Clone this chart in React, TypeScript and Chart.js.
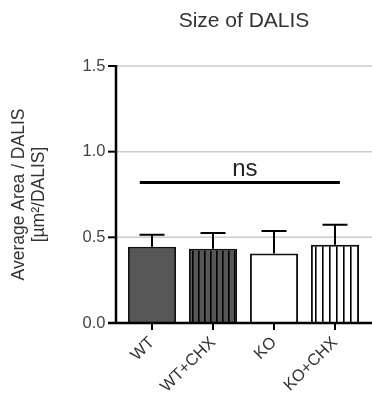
import React, { useEffect, useRef } from "react";
import { Chart, registerables } from "chart.js";

Chart.register(...registerables);

const categories = ["WT", "WT+CHX", "KO", "KO+CHX"];
const means = [0.445, 0.433, 0.406, 0.457];
const errors = [0.07, 0.092, 0.131, 0.117];
const yTicks = [0, 0.5, 1.0, 1.5];
const chartTitle = "Size of DALIS";
const yTitle = ["Average Area / DALIS", "[µm²/DALIS]"];
const sigLabel = "ns";
const sigFrom = -0.2;
const sigTo = 3.08;
const sigValue = 0.82;

function stripePattern(ctx: CanvasRenderingContext2D, bg: string, period: number) {
  const c = document.createElement("canvas");
  c.width = period;
  c.height = 8;
  const p = c.getContext("2d")!;
  p.fillStyle = bg;
  p.fillRect(0, 0, period, 8);
  p.fillStyle = "#000";
  p.fillRect(0, 0, 1.6, 8);
  return ctx.createPattern(c, "repeat")!;
}

export default function App() {
  const ref = useRef<HTMLCanvasElement | null>(null);
  useEffect(() => {
    const canvas = ref.current!;
    const ctx = canvas.getContext("2d")!;
    const fills: any[] = [
      "#575757",
      stripePattern(ctx, "#575757", 6),
      "#ffffff",
      stripePattern(ctx, "#ffffff", 7),
    ];
    const FONT = "'Liberation Sans', Arial, sans-serif";

    const decor = {
      id: "decor",
      beforeDatasetsDraw(chart: any) {
        const c = chart.ctx;
        const y = chart.scales.y;
        const axX = 116;
        c.save();
        c.strokeStyle = "#cccccc";
        c.lineWidth = 1.5;
        yTicks.forEach((v) => {
          if (v === 0) return;
          const py = y.getPixelForValue(v);
          c.beginPath();
          c.moveTo(axX, py);
          c.lineTo(chart.width, py);
          c.stroke();
        });
        c.restore();
      },
      afterDatasetsDraw(chart: any) {
        const c = chart.ctx;
        const x = chart.scales.x;
        const y = chart.scales.y;
        const axX = 116;
        const base = y.getPixelForValue(0);
        const top = y.getPixelForValue(1.5);
        c.save();
        const meta = chart.getDatasetMeta(0);
        c.strokeStyle = "#000";
        c.lineWidth = 2;
        meta.data.forEach((el: any, i: number) => {
          const ty = y.getPixelForValue(means[i] + errors[i]);
          c.beginPath();
          c.moveTo(el.x, el.y);
          c.lineTo(el.x, ty);
          c.moveTo(el.x - 12.5, ty);
          c.lineTo(el.x + 12.5, ty);
          c.stroke();
        });
        c.lineWidth = 2.5;
        c.beginPath();
        c.moveTo(axX, top - 1);
        c.lineTo(axX, base);
        c.stroke();
        c.beginPath();
        c.moveTo(axX - 8, base);
        c.lineTo(chart.width, base);
        c.stroke();
        c.lineWidth = 2;
        yTicks.forEach((v) => {
          const py = y.getPixelForValue(v);
          c.beginPath();
          c.moveTo(axX - 8, py);
          c.lineTo(axX, py);
          c.stroke();
        });
        categories.forEach((_, i) => {
          const px = x.getPixelForValue(i);
          c.beginPath();
          c.moveTo(px, base);
          c.lineTo(px, base + 7);
          c.stroke();
        });
        const sy = y.getPixelForValue(sigValue);
        const sx1 = x.getPixelForValue(sigFrom);
        const sx2 = x.getPixelForValue(sigTo);
        c.lineWidth = 3;
        c.beginPath();
        c.moveTo(sx1, sy);
        c.lineTo(sx2, sy);
        c.stroke();
        c.fillStyle = "#222";
        c.font = `24px ${FONT}`;
        c.textAlign = "center";
        c.textBaseline = "alphabetic";
        c.fillText(sigLabel, (sx1 + sx2) / 2 + 5, sy - 7);
        c.fillStyle = "#333";
        c.font = `21px ${FONT}`;
        c.fillText(chartTitle, 244, 27);
        c.restore();
      },
    };

    const chart = new Chart(canvas, {
      type: "bar",
      data: {
        labels: categories,
        datasets: [
          {
            data: means,
            backgroundColor: fills,
            borderColor: "#111",
            borderWidth: 2,
            categoryPercentage: 1,
            barPercentage: 0.79,
          },
        ],
      },
      options: {
        responsive: false,
        animation: false,
        events: [],
        layout: { padding: { left: 0, right: 6.5, top: 66, bottom: 0 } },
        plugins: { legend: { display: false }, tooltip: { enabled: false }, title: { display: false } },
        scales: {
          x: {
            type: "category",
            grid: { display: false, drawTicks: false },
            border: { display: false },
            ticks: {
              maxRotation: 45,
              minRotation: 45,
              padding: 10,
              color: "#333",
              font: { family: FONT, size: 16.5 },
            },
            afterFit: (s: any) => {
              s.height = 77;
            },
          },
          y: {
            min: 0,
            max: 1.5,
            grid: { display: false, drawTicks: false },
            border: { display: false },
            ticks: {
              stepSize: 0.5,
              padding: 16,
              color: "#444",
              font: { family: FONT, size: 16.5 },
              callback: (v: any) => Number(v).toFixed(1),
            },
            title: {
              display: true,
              text: yTitle,
              color: "#333",
              font: { family: FONT, size: 17.5, lineHeight: 1.1 },
              padding: { top: 10, bottom: 0 },
            },
            afterFit: (s: any) => {
              s.width = 121.5;
            },
          },
        },
      },
      plugins: [decor],
    });
    return () => chart.destroy();
  }, []);
  return (
    <div style={{ position: "fixed", left: 0, top: 0, width: 372, height: 400, background: "#fff" }}>
      <canvas ref={ref} width={372} height={400} />
    </div>
  );
}
